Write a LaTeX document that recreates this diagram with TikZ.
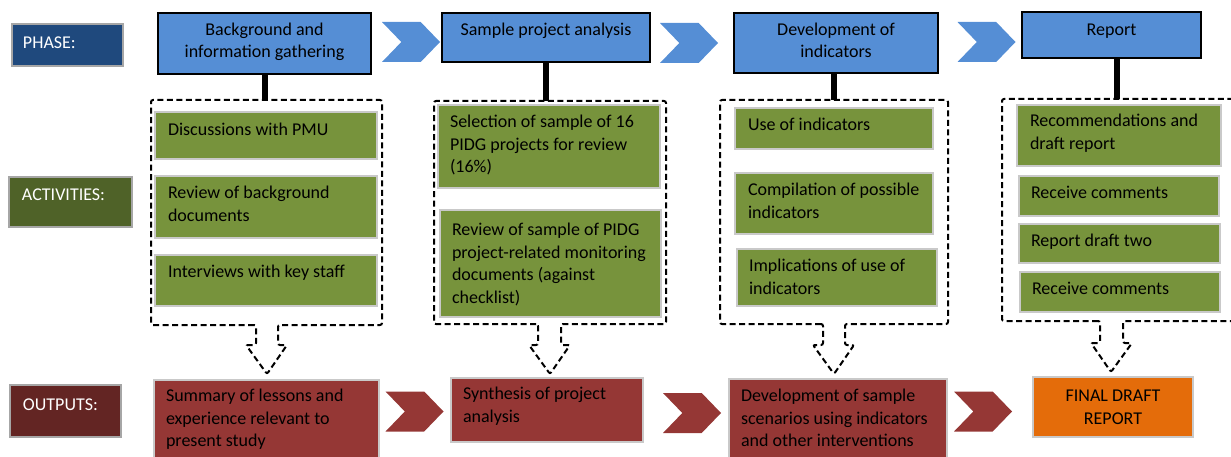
\documentclass[tikz,border=0pt]{standalone}
\usepackage{fontspec}
\setmainfont{Carlito}
\usetikzlibrary{shapes.symbols}

\definecolor{phaselbl}{HTML}{1F497D}
\definecolor{actlbl}{HTML}{4F6228}
\definecolor{outlbl}{HTML}{632523}
\definecolor{phasefill}{HTML}{558ED5}
\definecolor{actfill}{HTML}{77933C}
\definecolor{outfill}{HTML}{953735}
\definecolor{finalfill}{HTML}{E46C0A}
\definecolor{lblborder}{HTML}{A6A6A6}
\definecolor{softborder}{HTML}{C9C9C9}

% text cells: width, height, top pad, left indent, text (left aligned)
\newcommand\cellL[5]{\parbox[t][#2pt][t]{#1pt}{\vspace*{#3pt}\raggedright\leftskip=#4pt\relax\strut #5}}
% width, height, top pad, text (centred)
\newcommand\cellC[4]{\parbox[t][#2pt][t]{#1pt}{\vspace*{#3pt}\centering\strut #4}}

\tikzset{
  base/.style={inner sep=0pt, outer sep=0pt, anchor=north west, line width=1.2pt,
               font=\fontsize{18}{22.5}\selectfont},
  lbl/.style={base, draw=lblborder, text=white},
  phasebox/.style={base, draw=black, fill=phasefill},
  actbox/.style={base, draw=softborder, fill=actfill},
  outbox/.style={base, draw=softborder, fill=outfill},
  finalbox/.style={base, draw=softborder, fill=finalfill},
  chev/.style={shape=signal, signal from=west, signal to=east, signal pointer angle=92,
               minimum width=58pt, minimum height=40pt, inner sep=0pt, outer sep=0pt},
  link/.style={line width=6pt, black},
  group/.style={draw=black, line width=2pt, dash pattern=on 6pt off 3.5pt, rounded corners=2pt},
}

\begin{document}
\begin{tikzpicture}[x=1pt,y=-1pt]
\useasboundingbox (0,0) rectangle (1231,457);
\clip (0,0) rectangle (1231,457);

% row labels
\node[lbl, fill=phaselbl] (lphase) at (12,24)  {\cellL{111}{42}{8.5}{11}{PHASE:}};
\node[lbl, fill=actlbl]   (lact)   at (9,177)  {\cellL{123}{50}{8}{13}{ACTIVITIES:}};
\node[lbl, fill=outlbl]   (lout)   at (10,385) {\cellL{111}{52}{9.5}{13}{OUTPUTS:}};

% phases
\node[phasebox] (p1) at (158,13)  {\cellC{213}{61}{6.5}{Background and\\information gathering}};
\node[phasebox] (p2) at (442,13)  {\cellC{208}{49}{7}{Sample project analysis}};
\node[phasebox] (p3) at (734,13)  {\cellC{204}{60}{6.5}{Development of\\indicators}};
\node[phasebox] (p4) at (1022,12) {\cellC{179}{46}{7.5}{Report}};

\node[chev, fill=phasefill] (c1) at (411,42)   {};
\node[chev, fill=phasefill] (c2) at (689,43)   {};
\node[chev, fill=phasefill] (c3) at (986.5,42) {};

% activity groups (dashed frames with hollow arrows to the outputs)
\coordinate (g1) at (265,100);
\coordinate (g2) at (546,101);
\coordinate (g3) at (834,100);
\coordinate (g4) at (1117,99);

\draw[group] (256,325) -- (151,325) -- (151,100) -- (382,100) -- (382,325) -- (278,325)
  -- (278,345) -- (287,345) -- (267,374) -- (246,345) -- (256,345) -- cycle;
\draw[group] (538,324) -- (434,324) -- (434,101) -- (666,101) -- (666,324) -- (561,324)
  -- (561,345) -- (570,345) -- (550,374) -- (529,345) -- (538,345) -- cycle;
\draw[group] (823,324) -- (720,324) -- (720,100) -- (948,100) -- (948,324) -- (845,324)
  -- (845,345) -- (854,345) -- (834,374) -- (813,345) -- (823,345) -- cycle;
\draw[group] (1100,321) -- (1002,321) -- (1002,99) -- (1245,99) -- (1245,321) -- (1123,321)
  -- (1123,343) -- (1132,343) -- (1111,372) -- (1091,343) -- (1100,343) -- cycle;

\draw[link] (p1.south) -- (p1.south |- g1);
\draw[link] (p2.south) -- (p2.south |- g2);
\draw[link] (p3.south -| g3) -- (g3);
\draw[link] (p4.south -| g4) -- (g4);

% activities
\node[actbox] (a11) at (155,112) {\cellL{222}{47}{8}{13}{Discussions with PMU}};
\node[actbox] (a12) at (155,176) {\cellL{222}{62}{7}{13}{Review of background\\documents}};
\node[actbox] (a13) at (155,255) {\cellL{222}{51}{7}{13}{Interviews with key staff}};

\node[actbox] (a21) at (438,105) {\cellL{222}{83}{7}{12}{Selection of sample of 16\\PIDG projects for review\\(16\%)}};
\node[actbox] (a22) at (440,210) {\cellL{221}{107}{10}{12}{Review of sample of PIDG\\project-related monitoring\\documents (against\\checklist)}};

\node[actbox] (a31) at (735,108) {\cellL{198}{41}{7}{13}{Use of indicators}};
\node[actbox] (a32) at (735,173) {\cellL{198}{61}{7}{13}{Compilation of possible\\indicators}};
\node[actbox] (a33) at (737,249) {\cellL{200}{57}{7}{12}{Implications of use of\\indicators}};

\node[actbox] (a41) at (1017,105) {\cellL{204}{61}{6}{13}{Recommendations and\\draft report}};
\node[actbox] (a42) at (1019,176) {\cellL{200}{40}{7}{12}{Receive comments}};
\node[actbox] (a43) at (1019,224) {\cellL{201}{39}{7}{12}{Report draft two}};
\node[actbox] (a44) at (1020,272) {\cellL{200}{40}{7}{12}{Receive comments}};

% outputs
\node[outbox]   (o1) at (154,380)  {\cellL{225}{90}{6}{12}{Summary of lessons and\\experience relevant to\\present study}};
\node[outbox]   (o2) at (451,378)  {\cellL{192}{64}{6}{12}{Synthesis of project\\analysis}};
\node[outbox]   (o3) at (729,379)  {\cellL{218}{90}{7}{12}{Development of sample\\scenarios using indicators\\and other interventions}};
\node[finalbox] (o4) at (1033,377) {\cellC{160}{60}{9}{FINAL DRAFT\\REPORT}};

\node[chev, fill=outfill] (r1) at (414.5,411.5) {};
\node[chev, fill=outfill] (r2) at (692,413)     {};
\node[chev, fill=outfill] (r3) at (983,411.5)   {};
\end{tikzpicture}
\end{document}
